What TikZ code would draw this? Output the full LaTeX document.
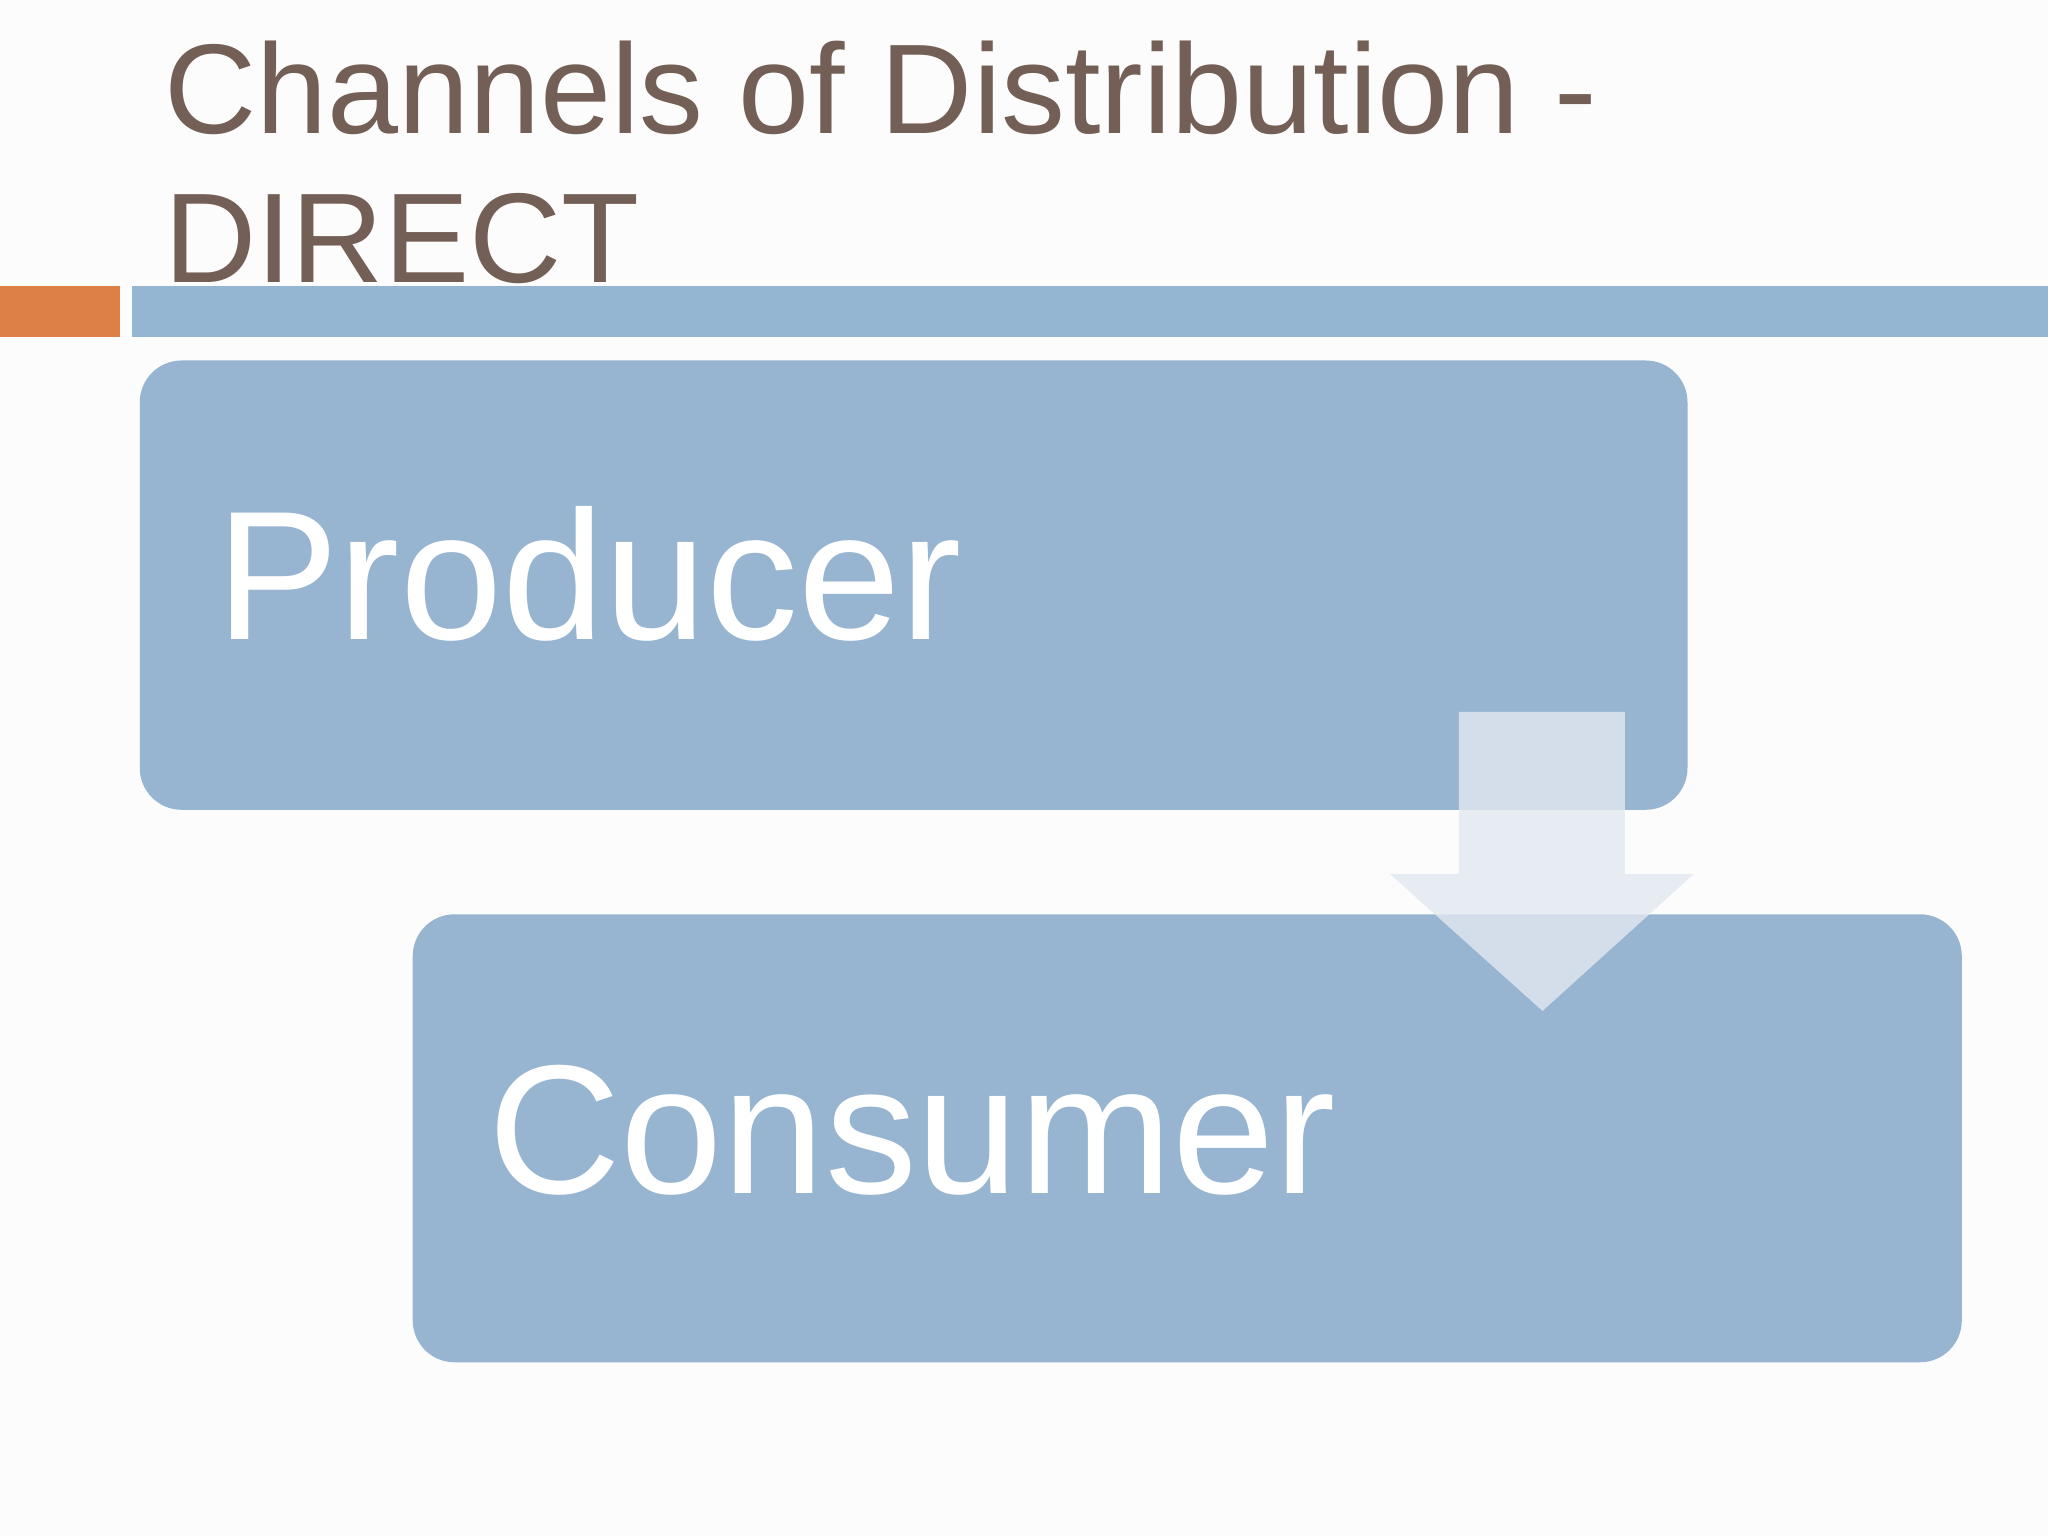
\documentclass[tikz,border=0pt]{standalone}
\usepackage{fontspec}
\setmainfont{Liberation Sans}
\definecolor{titlec}{HTML}{735F55}
\definecolor{boxc}{HTML}{97B5D1}
\definecolor{barc}{HTML}{94B6D2}
\definecolor{orangec}{HTML}{DD8047}
\definecolor{arrowc}{HTML}{E2E9F1}
\tikzset{box/.style={fill=boxc,draw=none,rounded corners=0.32cm},
 boxtext/.style={anchor=base west,inner sep=0pt,text=white,font=\fontsize{40}{48}\selectfont},
 titletext/.style={anchor=base west,inner sep=0pt,text=titlec,font=\fontsize{27.8}{33}\selectfont}}
\begin{document}
\begin{tikzpicture}[x=0.01cm,y=-0.01cm]
\fill[white!99!black] (0,0) rectangle (1568,1176);
\useasboundingbox (0,0) rectangle (1568,1176);
\node[titletext] (t1) at (125,102) {Channels of Distribution -};
\node[titletext] (t2) at (125,216) {DIRECT};
\fill[orangec] (0,219) rectangle (92,258);
\fill[barc] (101,219) rectangle (1568,258);
\fill[box] (107,276) rectangle (1292,620);
\node[boxtext] (p) at (165,490) {Producer};
\fill[box] (316,700) rectangle (1502,1043);
\node[boxtext] (c) at (373,914) {Consumer};
\fill[arrowc,fill opacity=0.8] (1117,545) -- (1244,545) -- (1244,669) -- (1297,669) -- (1181,774) -- (1064,669) -- (1117,669) -- cycle;
\end{tikzpicture}
\end{document}
